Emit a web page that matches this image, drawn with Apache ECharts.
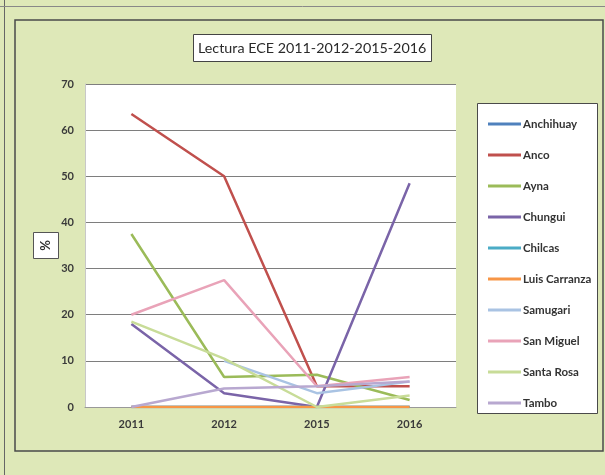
<!DOCTYPE html>
<html>
<head>
<meta charset="utf-8">
<script src="https://cdn.jsdelivr.net/npm/echarts@6/dist/echarts.min.js"></script>
<style>
html,body{margin:0;padding:0;background:#dfe8bb;}
#c{width:605px;height:475px;}
</style>
</head>
<body>
<div id="c"></div>
<script>
const categories = ['2011', '2012', '2015', '2016'];
const seriesNames = ['Anchihuay', 'Anco', 'Ayna', 'Chungui', 'Chilcas', 'Luis Carranza', 'Samugari', 'San Miguel', 'Santa Rosa', 'Tambo'];
const anchihuay = [0, 0, 0, 0];
const anco = [63.5, 50, 4.5, 4.5];
const ayna = [37.5, 6.5, 7, 1.5];
const chungui = [18, 3, 0, 48.5];
const chilcas = [0, 0, 0, 0];
const luisCarranza = [0, 0, 0, 0];
const samugari = [null, 10, 3, 5.5];
const sanMiguel = [20, 27.5, 4.5, 6.5];
const santaRosa = [18.5, 10.5, 0, 2.5];
const tambo = [0, 4, 4.5, 5.5];
const seriesValues = [anchihuay, anco, ayna, chungui, chilcas, luisCarranza, samugari, sanMiguel, santaRosa, tambo];
const yTicks = [0, 10, 20, 30, 40, 50, 60, 70];
const colors = ['#4F81BD', '#C0504D', '#9BBB59', '#7A64A8', '#4BACC6', '#F79646', '#A9C3E3', '#E9A3B8', '#C8DC98', '#B8A8D0'];

const chart = echarts.init(document.getElementById('c'), null, {renderer: 'canvas'});
const font = 'Lato, "Open Sans", sans-serif';
chart.setOption({
  backgroundColor: '#dee8b8',
  animation: false,
  color: colors,
  title: {
    text: 'Lectura ECE 2011-2012-2015-2016',
    left: 193, top: 34,
    padding: [5, 5, 5, 5],
    borderWidth: 1, borderColor: '#444', backgroundColor: '#ffffff',
    textStyle: {fontFamily: font, fontSize: 14.3, fontWeight: 'normal', color: '#2a2a2a', lineHeight: 18}
  },
  graphic: [
    {type: 'line', shape: {x1: 4.5, y1: 0, x2: 4.5, y2: 475}, style: {stroke: '#666', lineWidth: 1}, silent: true},
    {type: 'line', shape: {x1: 0, y1: 6.5, x2: 605, y2: 6.5}, style: {stroke: '#888', lineWidth: 1}, silent: true},
    {type: 'rect', shape: {x: 15, y: 20, width: 588, height: 431}, style: {fill: 'none', stroke: '#4a4a4a', lineWidth: 1.5}, silent: true},
    {type: 'rect', shape: {x: 477.5, y: 103.5, width: 120, height: 310}, style: {fill: '#ffffff', stroke: '#4a4a4a', lineWidth: 1}, silent: true, z: -1},
    {type: 'group', left: 33, top: 232, children: [
      {type: 'rect', shape: {x: 0.5, y: 0.5, width: 25, height: 26}, style: {fill: '#ffffff', stroke: '#555', lineWidth: 1}},
      {type: 'text', x: 13, y: 13.5, rotation: Math.PI / 2, style: {text: '%', fontFamily: font, fontSize: 13, fontWeight: 'bold', fill: '#333', align: 'center', verticalAlign: 'middle'}}
    ]}
  ],
  legend: {
    orient: 'vertical',
    left: 483, top: 112,
    data: seriesNames,
    icon: 'rect',
    itemWidth: 33, itemHeight: 3, itemGap: 17,
    textStyle: {fontFamily: font, fontSize: 11.5, fontWeight: 'bold', color: '#333', lineHeight: 14, padding: [0, 0, 0, -3]}
  },
  grid: {
    left: 85, top: 84, right: 149, bottom: 68,
    show: true, backgroundColor: '#ffffff', borderWidth: 0
  },
  xAxis: {
    type: 'category', data: categories, boundaryGap: true,
    axisLine: {show: true, lineStyle: {color: '#999', width: 1}},
    axisTick: {show: false},
    axisLabel: {fontFamily: font, fontSize: 11, fontWeight: 'bold', color: '#3a3a3a', margin: 12},
    splitLine: {show: false}
  },
  yAxis: {
    type: 'value', min: yTicks[0], max: yTicks[yTicks.length - 1], interval: 10,
    axisLine: {show: true, lineStyle: {color: '#c8c8c8', width: 1}},
    axisTick: {show: false},
    axisLabel: {fontFamily: font, fontSize: 11, fontWeight: 'bold', color: '#3a3a3a', margin: 11},
    splitLine: {show: true, lineStyle: {color: '#7e7e7e', width: 1}}
  },
  series: seriesNames.map((name, i) => ({
    name: name,
    type: 'line',
    data: seriesValues[i],
    showSymbol: false,
    symbol: 'none',
    connectNulls: false,
    lineStyle: {width: 2.5, color: colors[i]},
    itemStyle: {color: colors[i]}
  }))
});
</script>
</body>
</html>
